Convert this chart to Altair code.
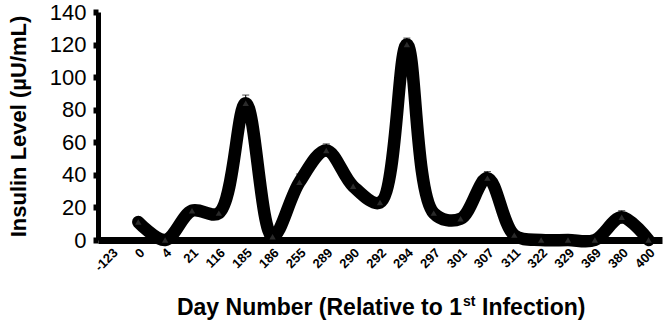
import altair as alt
import pandas as pd

days = ["-123", "0", "4", "21", "116", "185", "186", "255", "289", "290", "292",
        "294", "297", "301", "307", "311", "322", "329", "369", "380", "400"]
insulin = [None, 11, 0, 18, 16.5, 84, 2, 35.5, 55, 33, 23,
           120, 16.5, 13, 38, 3, 0, 0, 0, 14, 0]
err = [None, 2, 0, 2, 2, 5, 1, 5, 4, 2, 2,
       4, 2, 2, 4, 1, 0, 0, 0, 4, 0]
yticks = [0, 20, 40, 60, 80, 100, 120, 140]

df = pd.DataFrame({"day": days, "insulin": insulin, "err": err})
df["lo"] = df["insulin"] - df["err"]
df["hi"] = df["insulin"] + df["err"]

FONT = "Liberation Sans"
W, H = 564, 228

xaxis = alt.Axis(title=None, labelAngle=-45, labelFont=FONT, labelFontSize=13,
                 labelFontWeight="bold", labelColor="black", labelPadding=6,
                 labelOverlap=False, ticks=False, domainColor="black", domainWidth=7)
xscale = alt.Scale(domain=days, paddingInner=0, paddingOuter=0)
yaxis = alt.Axis(title="Insulin Level (µU/mL)", values=yticks,
                 grid=False, labelFont=FONT, labelFontSize=22, labelColor="black",
                 labelOverlap=False, labelFlush=False, labelBound=False,
                 labelPadding=7, tickSize=5, tickWidth=6, tickColor="black",
                 domainColor="black", domainWidth=5,
                 titleFont=FONT, titleFontSize=22, titleFontWeight="bold",
                 titleColor="black", titlePadding=19)
yscale = alt.Scale(domain=[0, 140], nice=False)


def X():
    return alt.X("day:O", sort=days, scale=xscale, axis=xaxis)


def Y(field):
    return alt.Y(field, type="quantitative", scale=yscale, axis=yaxis,
                 title="Insulin Level (µU/mL)")


base = alt.Chart(df)

line = base.mark_line(interpolate="catmull-rom", color="black", strokeWidth=12.5,
                      strokeCap="round", strokeJoin="round").encode(x=X(), y=Y("insulin"))

bars = base.transform_filter("datum.err > 0").mark_rule(color="black", strokeWidth=1).encode(
    x=X(), y=Y("lo"), y2="hi:Q")
caps = base.transform_filter("datum.err > 0").mark_tick(color="black", thickness=1, size=7,
                                                         orient="horizontal").encode(
    x=X(), y=Y("hi"))

pts = base.mark_point(shape="triangle-up", filled=True, color="#555555", size=40,
                      opacity=0.5).encode(x=X(), y=Y("insulin"))

tbase = alt.Chart(pd.DataFrame({"a": [0]}))
X0 = 364
t1 = tbase.mark_text(text="Day Number (Relative to 1", font=FONT, fontSize=23, fontWeight="bold",
                     align="right", baseline="alphabetic", color="black").encode(
    x=alt.value(X0), y=alt.value(303))
t2 = tbase.mark_text(text="st", font=FONT, fontSize=14, fontWeight="bold",
                     align="left", baseline="alphabetic", color="black").encode(
    x=alt.value(X0 + 1), y=alt.value(294))
t3 = tbase.mark_text(text="Infection)", font=FONT, fontSize=23, fontWeight="bold",
                     align="left", baseline="alphabetic", color="black").encode(
    x=alt.value(X0 + 20), y=alt.value(303))

chart = alt.layer(line, bars, caps, pts, t1, t2, t3).properties(
    width=W, height=H,
    autosize=alt.AutoSizeParams(type="none"),
    padding={"left": 98, "top": 12, "right": 8, "bottom": 88},
    background="white",
).configure_view(stroke=None, clip=False)

chart.save("out.html", embed_options={"renderer": "svg", "actions": False})
